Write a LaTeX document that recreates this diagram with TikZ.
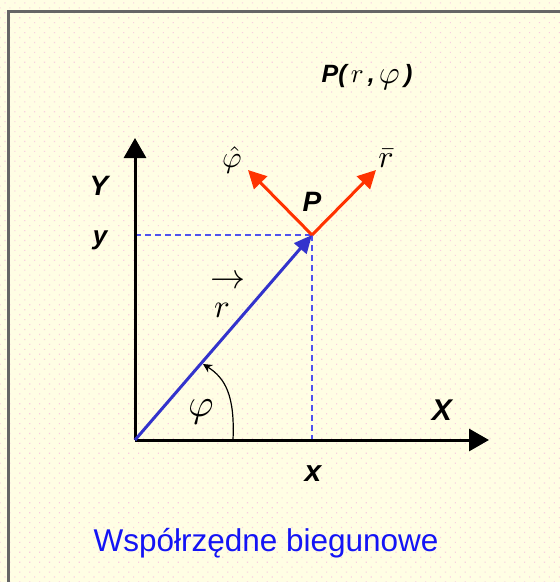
\documentclass[tikz,border=0pt]{standalone}
\usepackage{graphicx}
\usepackage{fontspec}
\setmainfont{Liberation Sans}
\usetikzlibrary{arrows.meta,patterns.meta}
\definecolor{bgyellow}{RGB}{255,254,228}
\definecolor{dotpink}{RGB}{250,205,225}
\definecolor{vecblue}{RGB}{51,51,204}
\definecolor{dashblue}{RGB}{80,80,240}
\definecolor{unitred}{RGB}{255,51,0}
\definecolor{titleblue}{RGB}{20,20,245}
\newcommand{\scmath}[2]{\scalebox{#1}{$#2$}}
\begin{document}
\begin{tikzpicture}[x=1pt,y=-1pt,
  axis/.style={line width=3pt,-{Triangle[length=20pt,width=22pt]}},
  vec/.style={line width=3pt,vecblue,-{Triangle[length=18pt,width=16pt]}},
  unit/.style={line width=3pt,unitred,-{Triangle[length=18pt,width=18pt]}},
  guide/.style={dashblue,line width=1.5pt,dash pattern=on 6pt off 4pt},
  lbl/.style={inner sep=0pt,font=\bfseries\itshape},
  mlbl/.style={inner sep=0pt,font=\fontsize{10}{12}\selectfont}]
\useasboundingbox (0,0) rectangle (560,582);
\fill[bgyellow] (0,0) rectangle (560,582);
\fill[pattern={Dots[radius=0.8pt,distance=7pt,angle=45]},pattern color=dotpink] (0,0) rectangle (560,582);
\draw[gray!80!black,line width=3pt] (8.5,590) -- (8.5,11.5) -- (570,11.5);
\coordinate (O) at (135,440);
\coordinate (P) at (312,235);
\coordinate (ytop) at (135,138);
\coordinate (xend) at (489,440);
\coordinate (yfoot) at (135,235);
\coordinate (xfoot) at (312,440);
\coordinate (phiend) at (248,170);
\coordinate (rend) at (376,170);
\coordinate (arcstart) at (233,440);
\coordinate (arcend) at (203,364);
% guides
\draw[guide] (yfoot) -- (P);
\draw[guide] (P) -- (xfoot);
% axes
\draw[axis] (O) -- (ytop);
\draw[axis] (O) -- (xend);
% vector
\draw[vec] (O) -- (P);
% unit vectors
\draw[unit] (P) -- (phiend);
\draw[unit] (P) -- (rend);
% angle arc
\draw[line width=1.2pt,-{Stealth[length=9pt,width=9pt]}] (arcstart) .. controls (235,395) and (225,378) .. (arcend);
% labels
\node[lbl,font=\bfseries\itshape\fontsize{25}{25}\selectfont] (title) at (367,77) {P(\,{\fontsize{10}{12}\selectfont\scmath{2.7}{r}}\,,\,{\fontsize{10}{12}\selectfont\raisebox{-1pt}{\scmath{3.2}{\varphi}}}\,)};
\node[lbl,font=\bfseries\itshape\fontsize{28}{28}\selectfont] (Plbl) at (312,202) {P};
\node[mlbl] (phihat) at (232,160) {\scmath{3}{\hat{\varphi}}};
\node[mlbl] (rbar) at (386,158) {\scmath{3.2}{\bar{r}}};
\node[lbl,font=\bfseries\itshape\fontsize{28}{28}\selectfont] (Ylbl) at (99,186) {Y};
\node[lbl,font=\bfseries\itshape\fontsize{26}{26}\selectfont] (ylbl) at (100,240) {y};
\node[lbl,font=\bfseries\itshape\fontsize{30}{30}\selectfont] (Xlbl) at (442,410) {X};
\node[lbl,font=\bfseries\itshape\fontsize{30}{30}\selectfont] (xlbl) at (313,474) {x};
\node[mlbl] (rarrow) at (228,282) {\scmath{3.5}{\rightarrow}};
\node[mlbl] (rlbl) at (222,310) {\scmath{3.3}{r}};
\node[mlbl] (philbl) at (201,412) {\scmath{3.9}{\varphi}};
\node[inner sep=0pt,text=titleblue,font=\fontsize{31.5}{31.5}\selectfont] (caption) at (266,543) {Współrzędne biegunowe};
\end{tikzpicture}
\end{document}
